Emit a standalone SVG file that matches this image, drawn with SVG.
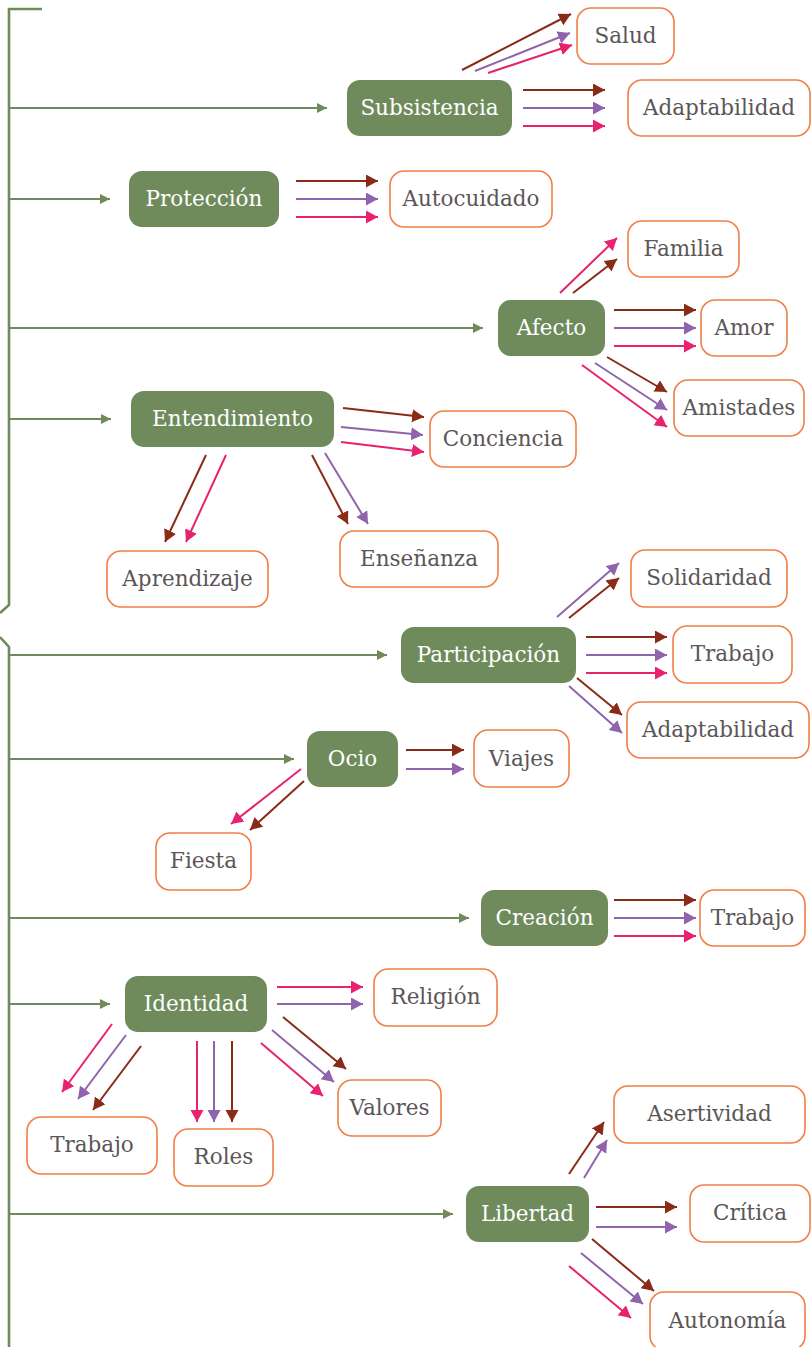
<svg xmlns="http://www.w3.org/2000/svg" width="811" height="1347" viewBox="0 0 811 1347">
<style>
.g rect{fill:#6f8b5c;}
.g text{fill:#ffffff;}
.o rect{fill:#ffffff;stroke:#f07f48;stroke-width:1.6;}
.o text{fill:#5b5657;}
text{font-family:"DejaVu Serif","Liberation Serif",serif;font-size:21.5px;text-anchor:middle;}
.br{stroke:#8a2b17;stroke-width:2;fill:none;marker-end:url(#mb);}
.pu{stroke:#9064ad;stroke-width:2;fill:none;marker-end:url(#mp);}
.pk{stroke:#e8226f;stroke-width:2;fill:none;marker-end:url(#mk);}
.gl{stroke:#6f8b5c;stroke-width:1.8;fill:none;marker-end:url(#mg);}
</style>
<defs>
<marker id="mb" markerUnits="userSpaceOnUse" markerWidth="14" markerHeight="14" refX="12" refY="6.5" orient="auto"><path d="M0,0 L12,6.5 L0,13 z" fill="#8a2b17"/></marker>
<marker id="mp" markerUnits="userSpaceOnUse" markerWidth="14" markerHeight="14" refX="12" refY="6.5" orient="auto"><path d="M0,0 L12,6.5 L0,13 z" fill="#9064ad"/></marker>
<marker id="mk" markerUnits="userSpaceOnUse" markerWidth="14" markerHeight="14" refX="12" refY="6.5" orient="auto"><path d="M0,0 L12,6.5 L0,13 z" fill="#e8226f"/></marker>
<marker id="mg" markerUnits="userSpaceOnUse" markerWidth="10" markerHeight="10" refX="10" refY="5" orient="auto"><path d="M0,0 L10,5 L0,10 z" fill="#6f8b5c"/></marker>
</defs>
<g id="connectors">
<path d="M42,9 L9,9 L9,605 L0,613 M0,637 L9,647 L9,1347" stroke="#6f8b5c" stroke-width="2.6" fill="none"/>
<line class="gl" x1="9" y1="108" x2="327" y2="108"/>
<line class="gl" x1="9" y1="199" x2="110" y2="199"/>
<line class="gl" x1="9" y1="328" x2="483" y2="328"/>
<line class="gl" x1="9" y1="419" x2="111" y2="419"/>
<line class="gl" x1="9" y1="655" x2="387" y2="655"/>
<line class="gl" x1="9" y1="759" x2="294" y2="759"/>
<line class="gl" x1="9" y1="918" x2="469" y2="918"/>
<line class="gl" x1="9" y1="1004" x2="110" y2="1004"/>
<line class="gl" x1="9" y1="1214" x2="453" y2="1214"/>
<!-- Subsistencia -->
<line class="br" x1="462" y1="70" x2="571" y2="14"/>
<line class="pu" x1="475" y1="71" x2="570" y2="33"/>
<line class="pk" x1="488" y1="73" x2="572" y2="45"/>
<line class="br" x1="523" y1="90" x2="605" y2="90"/>
<line class="pu" x1="523" y1="108" x2="605" y2="108"/>
<line class="pk" x1="523" y1="126" x2="605" y2="126"/>
<!-- Protección -->
<line class="br" x1="296" y1="181" x2="378" y2="181"/>
<line class="pu" x1="296" y1="199" x2="378" y2="199"/>
<line class="pk" x1="296" y1="217" x2="378" y2="217"/>
<!-- Afecto -->
<line class="pk" x1="560" y1="293" x2="617" y2="238"/>
<line class="br" x1="573" y1="293" x2="617" y2="259"/>
<line class="br" x1="614" y1="310" x2="696" y2="310"/>
<line class="pu" x1="614" y1="328" x2="696" y2="328"/>
<line class="pk" x1="614" y1="346" x2="696" y2="346"/>
<line class="br" x1="607" y1="357" x2="667" y2="392"/>
<line class="pu" x1="595" y1="363" x2="667" y2="410"/>
<line class="pk" x1="582" y1="365" x2="667" y2="427"/>
<!-- Entendimiento -->
<line class="br" x1="343" y1="408" x2="424" y2="417"/>
<line class="pu" x1="341" y1="427" x2="423" y2="435"/>
<line class="pk" x1="341" y1="442" x2="424" y2="452"/>
<line class="br" x1="206" y1="455" x2="165" y2="542"/>
<line class="pk" x1="226" y1="455" x2="186" y2="542"/>
<line class="br" x1="312" y1="455" x2="348" y2="524"/>
<line class="pu" x1="325" y1="453" x2="368" y2="524"/>
<!-- Participación -->
<line class="pu" x1="557" y1="617" x2="619" y2="563"/>
<line class="br" x1="569" y1="618" x2="619" y2="578"/>
<line class="br" x1="586" y1="637" x2="667" y2="637"/>
<line class="pu" x1="586" y1="655" x2="667" y2="655"/>
<line class="pk" x1="586" y1="673" x2="667" y2="673"/>
<line class="br" x1="577" y1="678" x2="622" y2="715"/>
<line class="pu" x1="569" y1="686" x2="622" y2="733"/>
<!-- Ocio -->
<line class="br" x1="406" y1="750" x2="464" y2="750"/>
<line class="pu" x1="406" y1="769" x2="464" y2="769"/>
<line class="pk" x1="301" y1="769" x2="231" y2="824"/>
<line class="br" x1="304" y1="781" x2="250" y2="830"/>
<!-- Creación -->
<line class="br" x1="614" y1="900" x2="696" y2="900"/>
<line class="pu" x1="614" y1="918" x2="696" y2="918"/>
<line class="pk" x1="614" y1="936" x2="696" y2="936"/>
<!-- Identidad -->
<line class="pk" x1="277" y1="987" x2="363" y2="987"/>
<line class="pu" x1="277" y1="1004" x2="363" y2="1004"/>
<line class="br" x1="283" y1="1017" x2="346" y2="1069"/>
<line class="pu" x1="272" y1="1030" x2="334" y2="1082"/>
<line class="pk" x1="261" y1="1043" x2="323" y2="1096"/>
<line class="pk" x1="112" y1="1024" x2="62" y2="1092"/>
<line class="pu" x1="126" y1="1035" x2="78" y2="1099"/>
<line class="br" x1="141" y1="1046" x2="93" y2="1110"/>
<line class="pk" x1="197" y1="1041" x2="197" y2="1122"/>
<line class="pu" x1="214" y1="1041" x2="214" y2="1122"/>
<line class="br" x1="232" y1="1041" x2="232" y2="1122"/>
<!-- Libertad -->
<line class="br" x1="569" y1="1174" x2="604" y2="1122"/>
<line class="pu" x1="584" y1="1178" x2="607" y2="1140"/>
<line class="br" x1="596" y1="1207" x2="677" y2="1207"/>
<line class="pu" x1="596" y1="1227" x2="677" y2="1227"/>
<line class="br" x1="592" y1="1239" x2="654" y2="1291"/>
<line class="pu" x1="581" y1="1253" x2="643" y2="1304"/>
<line class="pk" x1="569" y1="1266" x2="631" y2="1318"/>
</g>
<g id="n-subsistencia" class="g"><rect x="347" y="80" width="165" height="56" rx="13"/><text x="429.5" y="115">Subsistencia</text></g>
<g id="n-proteccion" class="g"><rect x="129" y="171" width="150" height="56" rx="13"/><text x="204" y="206">Protección</text></g>
<g id="n-afecto" class="g"><rect x="498" y="300" width="107" height="56" rx="13"/><text x="551.5" y="335">Afecto</text></g>
<g id="n-entendimiento" class="g"><rect x="131" y="391" width="203" height="56" rx="13"/><text x="232.5" y="426">Entendimiento</text></g>
<g id="n-participacion" class="g"><rect x="401" y="627" width="175" height="56" rx="13"/><text x="488.5" y="662">Participación</text></g>
<g id="n-ocio" class="g"><rect x="307" y="731" width="91" height="56" rx="13"/><text x="352.5" y="766">Ocio</text></g>
<g id="n-creacion" class="g"><rect x="481" y="890" width="127" height="56" rx="13"/><text x="544.5" y="925">Creación</text></g>
<g id="n-identidad" class="g"><rect x="125" y="976" width="142" height="56" rx="13"/><text x="196" y="1011">Identidad</text></g>
<g id="n-libertad" class="g"><rect x="466" y="1186" width="123" height="56" rx="13"/><text x="527.5" y="1221">Libertad</text></g>
<g id="n-salud" class="o"><rect x="577" y="8" width="97" height="56" rx="14"/><text x="625.5" y="43">Salud</text></g>
<g id="n-adaptabilidad1" class="o"><rect x="628" y="80" width="182" height="56" rx="14"/><text x="719" y="115">Adaptabilidad</text></g>
<g id="n-autocuidado" class="o"><rect x="390" y="171" width="162" height="56" rx="14"/><text x="471" y="206">Autocuidado</text></g>
<g id="n-familia" class="o"><rect x="628" y="221" width="111" height="56" rx="14"/><text x="683.5" y="256">Familia</text></g>
<g id="n-amor" class="o"><rect x="701" y="300" width="86" height="56" rx="14"/><text x="744" y="335">Amor</text></g>
<g id="n-amistades" class="o"><rect x="674" y="380" width="130" height="56" rx="14"/><text x="739" y="415">Amistades</text></g>
<g id="n-conciencia" class="o"><rect x="430" y="411" width="146" height="56" rx="14"/><text x="503" y="446">Conciencia</text></g>
<g id="n-aprendizaje" class="o"><rect x="107" y="551" width="161" height="56" rx="14"/><text x="187.5" y="586">Aprendizaje</text></g>
<g id="n-ensenanza" class="o"><rect x="340" y="531" width="158" height="56" rx="14"/><text x="419" y="566">Enseñanza</text></g>
<g id="n-solidaridad" class="o"><rect x="631" y="550" width="156" height="57" rx="14"/><text x="709" y="585">Solidaridad</text></g>
<g id="n-trabajo1" class="o"><rect x="673" y="626" width="119" height="57" rx="14"/><text x="732.5" y="661">Trabajo</text></g>
<g id="n-adaptabilidad2" class="o"><rect x="627" y="702" width="182" height="56" rx="14"/><text x="718" y="737">Adaptabilidad</text></g>
<g id="n-viajes" class="o"><rect x="474" y="730" width="95" height="57" rx="14"/><text x="521.5" y="766">Viajes</text></g>
<g id="n-fiesta" class="o"><rect x="156" y="833" width="95" height="57" rx="14"/><text x="203.5" y="868">Fiesta</text></g>
<g id="n-trabajo2" class="o"><rect x="700" y="890" width="105" height="56" rx="14"/><text x="752.5" y="925">Trabajo</text></g>
<g id="n-religion" class="o"><rect x="374" y="969" width="123" height="57" rx="14"/><text x="435.5" y="1004">Religión</text></g>
<g id="n-valores" class="o"><rect x="338" y="1080" width="103" height="56" rx="14"/><text x="389.5" y="1115">Valores</text></g>
<g id="n-trabajo3" class="o"><rect x="27" y="1117" width="130" height="57" rx="14"/><text x="92" y="1152">Trabajo</text></g>
<g id="n-roles" class="o"><rect x="174" y="1129" width="99" height="57" rx="14"/><text x="223.5" y="1164">Roles</text></g>
<g id="n-asertividad" class="o"><rect x="614" y="1086" width="191" height="57" rx="14"/><text x="709.5" y="1121">Asertividad</text></g>
<g id="n-critica" class="o"><rect x="690" y="1185" width="120" height="57" rx="14"/><text x="750" y="1220">Crítica</text></g>
<g id="n-autonomia" class="o"><rect x="650" y="1292" width="155" height="58" rx="14"/><text x="727.5" y="1328">Autonomía</text></g>
</svg>
